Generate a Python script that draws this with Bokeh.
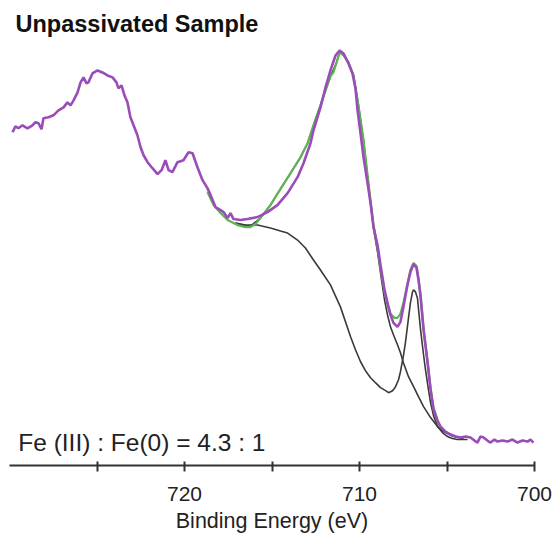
from bokeh.plotting import figure
from bokeh.models import Range1d, FixedTicker, Label, Title
from bokeh.embed import file_html
from bokeh.resources import INLINE

# ---- data (binding energy in eV, intensity in arbitrary units) ----
be_measured = [729.83, 729.66, 729.49, 729.26, 728.97, 728.69, 728.51, 728.34, 728.17, 728.06,
               727.77, 727.49, 727.20, 726.91, 726.69, 726.51, 726.34, 726.11, 725.94, 725.77,
               725.60, 725.49, 725.26, 724.97, 724.69, 724.40, 724.11, 723.89, 723.77, 723.60,
               723.43, 723.26, 723.09, 722.91, 722.69, 722.51, 722.34, 722.11, 721.83, 721.54,
               721.31, 721.09, 720.91, 720.69, 720.40, 720.06, 719.77, 719.54, 719.26, 718.97,
               718.69, 718.51, 718.23, 717.94, 717.77, 717.54, 717.37, 717.20, 716.80, 716.40,
               715.83, 715.26, 714.69, 714.11, 713.54, 713.20, 712.80, 712.63, 712.23, 711.94,
               711.66, 711.37, 711.14, 710.91, 710.63, 710.40, 710.23, 710.11, 709.94, 709.77,
               709.54, 709.37, 709.20, 708.97, 708.80, 708.57, 708.40, 708.23, 708.06, 707.83,
               707.66, 707.49, 707.26, 707.09, 706.91, 706.74, 706.63, 706.51, 706.34, 706.11,
               705.94, 705.77, 705.54, 705.37, 705.09, 704.80, 704.51, 704.23, 703.94, 703.66,
               703.43, 703.26, 703.09, 702.91, 702.69, 702.51, 702.29, 702.11, 701.83, 701.54,
               701.26, 700.97, 700.69, 700.40, 700.23, 700.06]
int_measured = [308, 314, 312, 315, 312, 315, 318, 317, 311, 322,
                323, 325, 330, 333, 338, 335, 340, 348, 358, 363,
                357, 358, 367, 370, 368, 365, 363, 358, 352, 355,
                345, 338, 323, 315, 305, 293, 285, 278, 272, 266,
                270, 280, 270, 268, 278, 280, 288, 287, 273, 260,
                252, 245, 233, 230, 228, 222, 227, 221, 220, 221,
                223, 228, 235, 247, 263, 277, 297, 310, 333, 353,
                370, 385, 390, 387, 377, 367, 352, 330, 307, 283,
                257, 237, 213, 195, 175, 150, 137, 125, 117, 113,
                118, 133, 155, 168, 176, 172, 160, 143, 110, 77,
                50, 30, 18, 13, 8, 5, 3, 2, 3, 2,
                -1, -3, 3, 2, -1, -3, 0, -2, -1, -2,
                0, -3, -1, -2, 0, -3]

be_envelope = [718.69, 718.34, 717.94, 717.54, 716.97, 716.51, 716.23, 715.94, 715.66, 715.09,
               714.63, 713.94, 713.37, 712.97, 712.63, 712.23, 711.94, 711.66, 711.49, 711.31,
               711.14, 710.91, 710.63, 710.34, 710.06, 709.77, 709.54, 709.37, 709.20, 708.97,
               708.80, 708.57, 708.40, 708.23, 708.00, 707.83, 707.66, 707.49, 707.26, 707.09,
               706.91, 706.74, 706.63, 706.51, 706.34, 706.11, 705.94, 705.77, 705.54, 705.37,
               705.09, 704.80, 704.51, 704.23]
int_envelope = [248, 235, 227, 220, 215, 213, 213, 216, 222, 235,
                248, 267, 283, 297, 315, 335, 350, 364, 368, 378,
                388, 385, 378, 365, 335, 300, 265, 240, 215, 192,
                172, 148, 135, 126, 122, 122, 126, 137, 156, 170,
                177, 174, 162, 145, 112, 78, 52, 32, 20, 13,
                8, 5, 3, 2]

# background + Fe(0) component
be_fe0 = [717.09, 716.51, 715.83, 715.09, 714.51, 714.11, 713.54, 713.09, 712.63, 712.23,
          711.66, 711.09, 710.51, 710.23, 709.94, 709.66, 709.37, 709.09, 708.80, 708.51,
          708.34, 708.11, 707.94, 707.77, 707.66, 707.49, 707.37, 707.20, 707.09, 706.97,
          706.91, 706.80, 706.69, 706.51, 706.34, 706.23, 706.06, 705.94, 705.77, 705.54,
          705.26, 704.97, 704.69, 704.40, 703.83]
int_fe0 = [217, 215, 215, 212, 209, 207, 200, 192, 180, 170,
           155, 133, 103, 90, 78, 69, 62, 57, 52, 49,
           47, 49, 53, 60, 68, 84, 98, 122, 137, 148,
           150, 148, 142, 110, 85, 70, 50, 37, 24, 13,
           7, 3, 1, 0, 0]

# background + Fe(III) component
be_fe3 = [717.09, 716.51, 716.23, 715.66, 715.09, 714.63, 713.94, 713.37, 712.97, 712.63,
          712.23, 711.94, 711.66, 711.31, 711.14, 710.91, 710.63, 710.34, 710.06, 709.77,
          709.54, 709.37, 709.20, 708.97, 708.80, 708.57, 708.40, 708.23, 708.06, 707.83,
          707.66, 707.49, 707.20, 706.91, 706.63, 706.34, 705.94, 705.54, 705.20, 704.63,
          704.06]
int_fe3 = [217, 214, 214, 222, 235, 248, 267, 283, 297, 315,
           335, 350, 364, 378, 388, 385, 378, 365, 335, 300,
           264, 238, 212, 188, 167, 140, 125, 113, 105, 95,
           87, 77, 63, 53, 43, 33, 22, 13, 8, 3,
           1]

tick_values = [725, 720, 715, 710, 705, 700]
hidden_ticks = {725: "", 715: "", 705: ""}
title_text = "Unpassivated Sample"
ratio_text = "Fe (III) : Fe(0) = 4.3 : 1"
x_label = "Binding Energy (eV)"

# ---- figure ----
p = figure(width=556, height=535, output_backend="svg", toolbar_location=None,
           x_range=Range1d(730, 700), y_range=Range1d(-26, 400),
           y_axis_type=None, min_border_left=9, min_border_right=22,
           min_border_top=40, min_border_bottom=69)
p.title = Title(text=title_text, align="left", offset=6, standoff=7,
                text_font="Liberation Sans", text_font_size="23.5px",
                text_font_style="bold", text_color="#111111")
p.outline_line_color = None
p.grid.visible = False
p.background_fill_color = "white"
p.border_fill_color = "white"

dark = "#333333"
p.line(be_fe0, int_fe0, line_color="#3a3a3a", line_width=1.6)
p.line(be_fe3, int_fe3, line_color="#3a3a3a", line_width=1.6)
p.line(be_envelope, int_envelope, line_color="#5cb452", line_width=2.2)
p.line(be_measured, int_measured, line_color="#9a4cb8", line_width=2.6)

ax = p.xaxis[0]
ax.ticker = FixedTicker(ticks=tick_values)
ax.major_label_overrides = hidden_ticks
ax.axis_line_color = dark
ax.axis_line_width = 2
ax.major_tick_line_color = dark
ax.major_tick_line_width = 2
ax.major_tick_in = 4
ax.major_tick_out = 6
ax.minor_tick_line_color = None
ax.major_label_standoff = 15
ax.major_label_text_font = "Liberation Sans"
ax.major_label_text_font_size = "21px"
ax.major_label_text_color = "#222222"
ax.axis_label = x_label
ax.axis_label_standoff = 5
ax.axis_label_text_font = "Liberation Sans"
ax.axis_label_text_font_size = "21.5px"
ax.axis_label_text_font_style = "normal"
ax.axis_label_text_color = "#222222"

p.add_layout(Label(x=729.5, y=-3, text=ratio_text, text_font="Liberation Sans",
                   text_font_size="24.5px", text_color="#222222",
                   text_baseline="alphabetic", text_align="left"))

open("out.html", "w").write(file_html(p, INLINE))
